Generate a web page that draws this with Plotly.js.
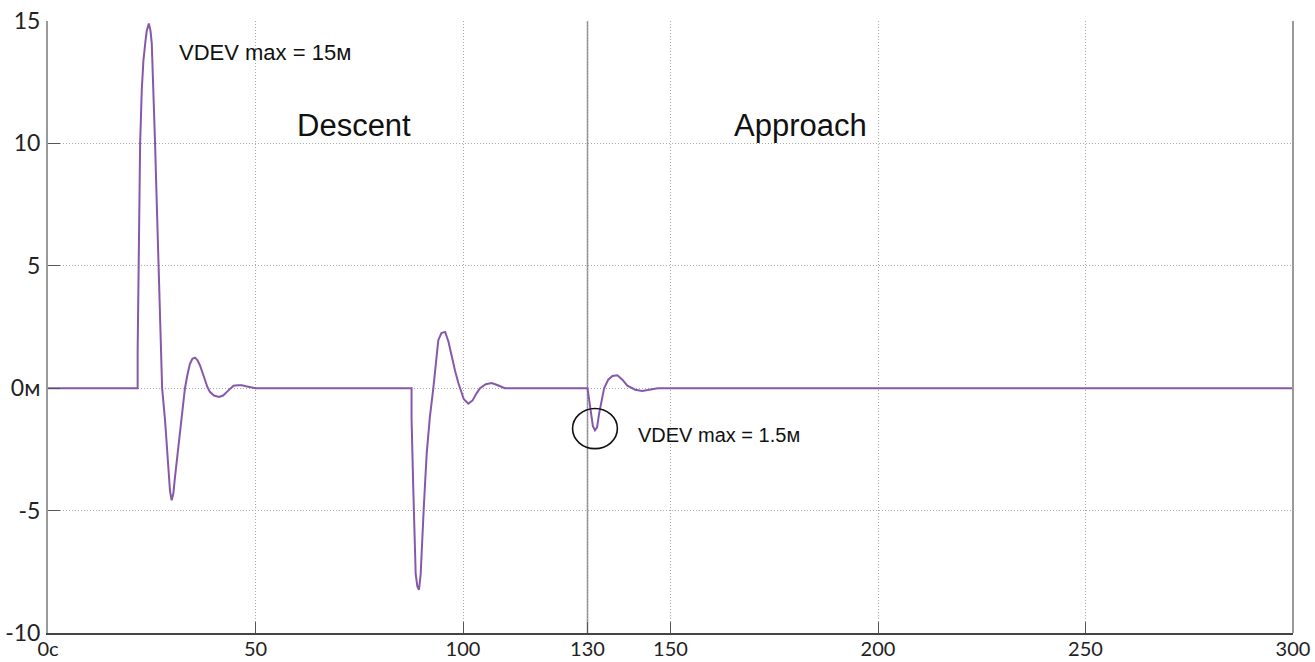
<!DOCTYPE html>
<html>
<head>
<meta charset="utf-8">
<script src="https://cdn.plot.ly/plotly-3.0.1.min.js"></script>
<style>html,body{margin:0;padding:0;background:#fff;}#chart{width:1315px;height:662px;}</style>
</head>
<body>
<div id="chart"></div>
<script>
// Time (s) and vertical deviation VDEV (m)
const event1Time = [0, 21.6, 21.6, 21.8, 22.2, 22.6, 23.0, 23.5, 23.8, 24.3, 24.7, 25.0, 25.4, 25.8, 26.2, 26.6, 27.0, 27.5, 28.2, 29.0, 29.4, 29.8, 30.2, 30.6, 31.2, 31.8, 32.4, 33.0, 33.6, 34.2, 34.8, 35.4, 36.0, 36.6, 37.2, 37.8, 38.4, 39.0, 40.0, 41.2, 42.2, 43.1, 44.0, 44.7, 45.7, 46.7, 47.7, 48.7, 50.0];
const event1Dev  = [0, 0, 1.5, 4.5, 10.0, 12.2, 13.4, 14.2, 14.6, 14.9, 14.6, 14.1, 12.3, 10.0, 7.6, 5.2, 2.7, 0, -1.3, -3.35, -4.2, -4.58, -4.3, -3.63, -2.7, -1.72, -0.85, 0, 0.55, 1.0, 1.2, 1.25, 1.15, 0.94, 0.65, 0.32, 0.05, -0.15, -0.3, -0.36, -0.3, -0.15, 0, 0.1, 0.12, 0.12, 0.08, 0.04, 0];

const event2Time = [87.6, 87.6, 88.0, 88.6, 89.0, 89.4, 89.8, 90.0, 90.6, 91.25, 92.0, 92.85, 93.5, 94.05, 94.8, 95.7, 96.5, 97.3, 98.1, 98.9, 99.3, 100.2, 101.3, 102.3, 103.3, 104.1, 105.5, 106.9, 108.4, 110.1];
const event2Dev  = [0, -1.2, -4.0, -7.6, -8.1, -8.23, -7.6, -6.8, -4.7, -2.67, -1.2, 0, 1.2, 1.96, 2.25, 2.3, 1.9, 1.27, 0.7, 0.2, 0, -0.45, -0.63, -0.5, -0.2, 0, 0.16, 0.21, 0.12, 0];

const event3Time = [130, 130.3, 130.8, 131.3, 131.8, 132.3, 132.8, 133.4, 134.0, 135.0, 136.0, 137.2, 138.4, 139.6, 141.5, 143.2, 145.0, 146.9, 300];
const event3Dev  = [0, -0.4, -1.0, -1.55, -1.72, -1.6, -1.04, -0.45, 0, 0.35, 0.5, 0.53, 0.35, 0.1, -0.06, -0.11, -0.05, 0, 0];

const xTickVals = [0, 50, 100, 130, 150, 200, 250, 300];
const xTickText = ['0с', '50', '100', '130', '150', '200', '250', '300'];
const yTickVals = [-10, -5, 0, 5, 10, 15];
const yTickText = ['-10', '-5', '0м', '5', '10', '15'];

const phaseBoundary = 130;
const phaseLabels = ['Descent', 'Approach'];
const phaseLabelX = [73.7, 181.4];
const phaseLabelY = 10.74;
const maxLabels = ['VDEV max = 15м', 'VDEV max = 1.5м'];
const maxLabelX = [31.0, 141.6];
const maxLabelY = [13.72, -1.92];
const maxLabelSize = [22, 20];
const circleX = [126.4, 137.2];
const circleY = [-0.83, -2.47];

const t = event1Time.concat(event2Time, event3Time);
const v = event1Dev.concat(event2Dev, event3Dev);

const trace = {
  x: t, y: v, type: 'scatter', mode: 'lines',
  line: {color: '#8658aa', width: 2},
  hoverinfo: 'skip'
};

const annotations = [];
phaseLabels.forEach((s, i) => annotations.push({
  x: phaseLabelX[i], y: phaseLabelY, xref: 'x', yref: 'y', text: s, showarrow: false,
  xanchor: 'center', yanchor: 'middle',
  font: {family: 'Liberation Sans, Arial, sans-serif', size: 31, color: '#111'}
}));
maxLabels.forEach((s, i) => annotations.push({
  x: maxLabelX[i], y: maxLabelY[i], xref: 'x', yref: 'y', text: s, showarrow: false,
  xanchor: 'left', yanchor: 'middle',
  font: {family: 'Liberation Sans, Arial, sans-serif', size: maxLabelSize[i], color: '#111'}
}));

const gridDash = '1px,2px';

const layout = {
  width: 1315, height: 662,
  margin: {l: 48, r: 22, t: 21, b: 29, pad: 0},
  paper_bgcolor: '#fff', plot_bgcolor: '#fff',
  showlegend: false,
  xaxis: {
    range: [0, 300], tickvals: xTickVals, ticktext: xTickText,
    ticks: 'inside', ticklen: 11, tickcolor: '#555', tickwidth: 1,
    showline: true, linecolor: '#444', linewidth: 1.5,
    showgrid: true, gridcolor: '#a8a8a8', griddash: gridDash, gridwidth: 1,
    zeroline: false, ticklabelstandoff: -3,
    tickfont: {family: 'Lato, Open Sans, sans-serif', size: 20, color: '#222'}
  },
  yaxis: {
    range: [-10, 15], tickvals: yTickVals, ticktext: yTickText,
    ticks: 'inside', ticklen: 12, tickcolor: '#555', tickwidth: 1,
    showline: true, linecolor: '#9a9a9a', linewidth: 2,
    showgrid: true, gridcolor: '#a8a8a8', griddash: gridDash, gridwidth: 1,
    zeroline: false, ticklabelstandoff: 1,
    tickfont: {family: 'Lato, Open Sans, sans-serif', size: 23, color: '#222'}
  },
  shapes: [
    {type: 'line', xref: 'x', yref: 'paper', x0: phaseBoundary, x1: phaseBoundary, y0: 0, y1: 1,
     line: {color: '#8c8c8c', width: 1.5}, layer: 'below'},
    {type: 'line', xref: 'paper', yref: 'paper', x0: 1, x1: 1, y0: 0, y1: 1,
     line: {color: '#9a9a9a', width: 2}},
    {type: 'circle', xref: 'x', yref: 'y', x0: circleX[0], x1: circleX[1], y0: circleY[0], y1: circleY[1],
     line: {color: '#111', width: 1.6}}
  ],
  annotations: annotations
};

Plotly.newPlot('chart', [trace], layout, {staticPlot: true, displayModeBar: false});
</script>
</body>
</html>
